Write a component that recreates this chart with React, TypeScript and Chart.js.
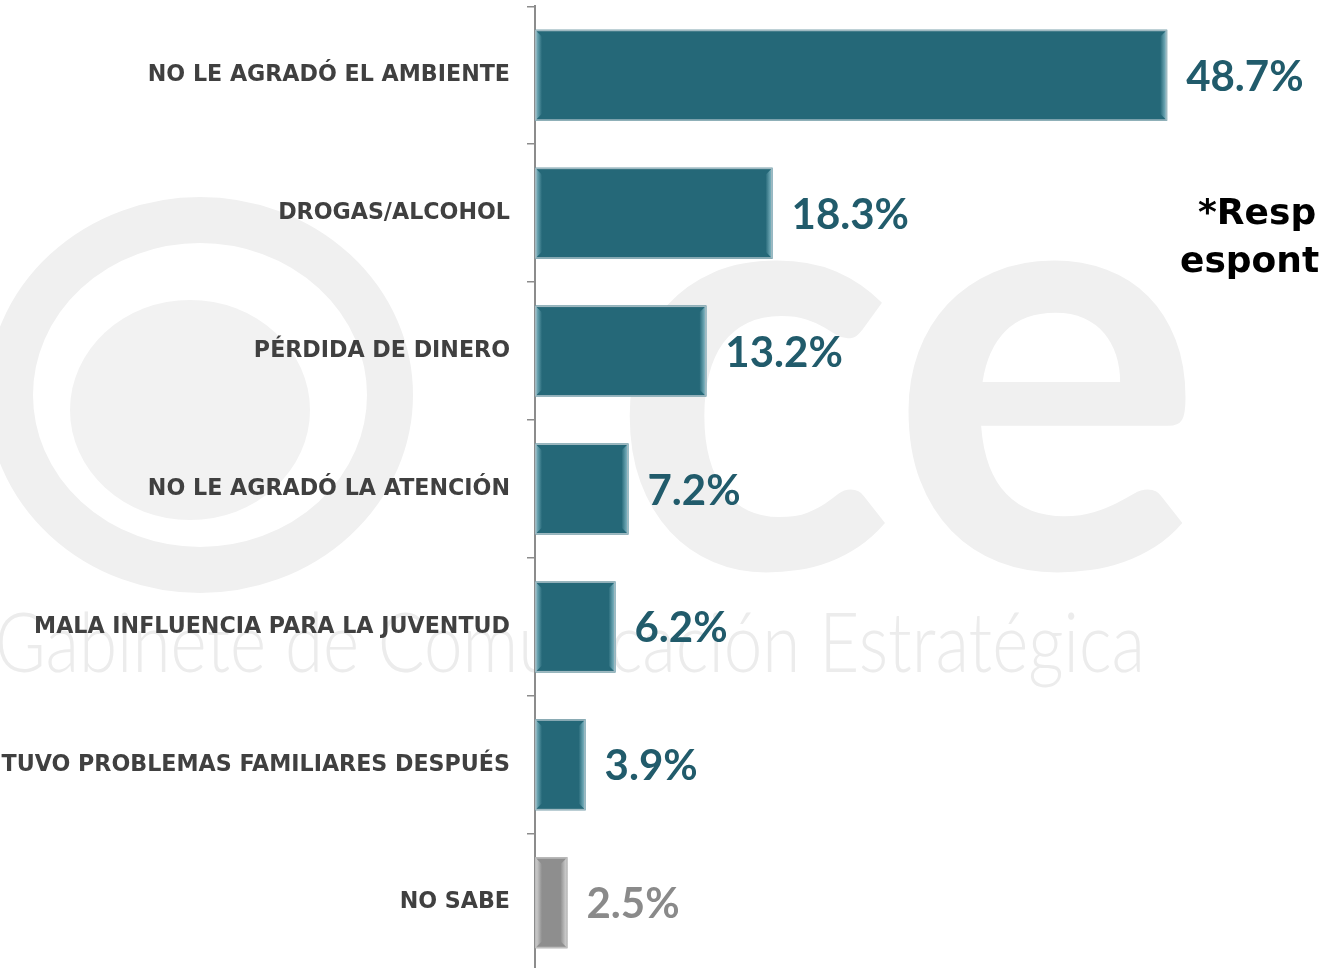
import React, { useEffect, useRef } from "react";
import { Chart, registerables } from "chart.js";

Chart.register(...registerables);

const categories = [
  "NO LE AGRADÓ EL AMBIENTE",
  "DROGAS/ALCOHOL",
  "PÉRDIDA DE DINERO",
  "NO LE AGRADÓ LA ATENCIÓN",
  "MALA INFLUENCIA PARA LA JUVENTUD",
  "TUVO PROBLEMAS FAMILIARES DESPUÉS",
  "NO SABE",
];
const values = [48.7, 18.3, 13.2, 7.2, 6.2, 3.9, 2.5];
const valueLabels = ["48.7%", "18.3%", "13.2%", "7.2%", "6.2%", "3.9%", "2.5%"];
const barColors = ["#256878", "#256878", "#256878", "#256878", "#256878", "#256878", "#8e8e8e"];
const highlightColors = ["#8fc3cf", "#8fc3cf", "#8fc3cf", "#8fc3cf", "#8fc3cf", "#8fc3cf", "#dcdcdc"];
const labelColors = ["#215b6b", "#215b6b", "#215b6b", "#215b6b", "#215b6b", "#215b6b", "#8a8a8a"];
const noteLines = ["*Respuesta", "espontánea"];
const watermarkText = "Gabinete de Comunicación Estratégica";
const watermarkLogo = "ce";

// the canvas is shifted up by this many px inside a clipping frame
const SHIFT = 24;

const watermarkPlugin = {
  id: "watermark",
  beforeDraw(chart: any) {
    const ctx = chart.ctx;
    ctx.save();
    ctx.translate(0, SHIFT);
    ctx.strokeStyle = "#f0f0f0";
    ctx.lineWidth = 46;
    ctx.beginPath();
    ctx.ellipse(200, 395, 190, 175, 0, 0, Math.PI * 2);
    ctx.stroke();
    ctx.fillStyle = "#f2f2f2";
    ctx.beginPath();
    ctx.ellipse(190, 410, 120, 110, 0, 0, Math.PI * 2);
    ctx.fill();
    ctx.fillStyle = "#f0f0f0";
    ctx.font = "bold 590px Lato";
    ctx.textBaseline = "alphabetic";
    ctx.textAlign = "left";
    ctx.fillText(watermarkLogo, 610, 568);
    ctx.fillStyle = "#ececec";
    ctx.font = "300 82px Lato";
    const w = ctx.measureText(watermarkText).width;
    ctx.translate(-5, 672);
    ctx.scale(1150 / w, 1);
    ctx.fillText(watermarkText, 0, 0);
    ctx.restore();
  },
};

const bevelPlugin = {
  id: "bevel",
  afterDatasetsDraw(chart: any) {
    const ctx = chart.ctx;
    const meta = chart.getDatasetMeta(0);
    meta.data.forEach((bar: any, i: number) => {
      const { x, y, base, height } = bar.getProps(["x", "y", "base", "height"], true);
      const left = Math.min(x, base);
      const right = Math.max(x, base);
      const top = y - height / 2;
      const bottom = y + height / 2;
      const hl = highlightColors[i];
      const sw = 7;
      ctx.save();
      let g = ctx.createLinearGradient(left, 0, left + sw, 0);
      g.addColorStop(0, hl);
      g.addColorStop(1, barColors[i]);
      ctx.fillStyle = g;
      ctx.beginPath();
      ctx.moveTo(left, top);
      ctx.lineTo(left + sw, top + sw);
      ctx.lineTo(left + sw, bottom - sw);
      ctx.lineTo(left, bottom);
      ctx.closePath();
      ctx.fill();
      g = ctx.createLinearGradient(right - sw, 0, right, 0);
      g.addColorStop(0, barColors[i]);
      g.addColorStop(1, hl);
      ctx.fillStyle = g;
      ctx.beginPath();
      ctx.moveTo(right, top);
      ctx.lineTo(right - sw, top + sw);
      ctx.lineTo(right - sw, bottom - sw);
      ctx.lineTo(right, bottom);
      ctx.closePath();
      ctx.fill();
      ctx.strokeStyle = i === 6 ? "#bdbdbd" : "#9fb9c1";
      ctx.lineWidth = 1.5;
      ctx.strokeRect(left + 0.75, top + 0.75, right - left - 1.5, bottom - top - 1.5);
      ctx.restore();
    });
  },
};

const valueLabelPlugin = {
  id: "valueLabels",
  afterDatasetsDraw(chart: any) {
    const ctx = chart.ctx;
    const meta = chart.getDatasetMeta(0);
    ctx.save();
    ctx.font = "bold 42px Lato";
    ctx.textAlign = "left";
    ctx.textBaseline = "middle";
    meta.data.forEach((bar: any, i: number) => {
      const { x, y } = bar.getProps(["x", "y"], true);
      ctx.fillStyle = labelColors[i];
      ctx.fillText(valueLabels[i], x + 19, y + 2);
    });
    ctx.restore();
  },
};

const notePlugin = {
  id: "note",
  afterDraw(chart: any) {
    const ctx = chart.ctx;
    ctx.save();
    ctx.translate(0, SHIFT);
    ctx.fillStyle = "#000000";
    ctx.font = "bold 36px 'DejaVu Sans'";
    ctx.textAlign = "left";
    ctx.textBaseline = "middle";
    ctx.fillText(noteLines[0], 1198, 215);
    ctx.fillText(noteLines[1], 1180, 263);
    ctx.restore();
  },
};

export default function App() {
  const canvasRef = useRef<HTMLCanvasElement>(null);

  useEffect(() => {
    if (!canvasRef.current) return;
    const chart = new Chart(canvasRef.current, {
      type: "bar",
      data: {
        labels: categories,
        datasets: [
          {
            data: values,
            backgroundColor: barColors,
            borderWidth: 0,
            barPercentage: 0.66,
            categoryPercentage: 1,
          },
        ],
      },
      options: {
        indexAxis: "y",
        animation: false,
        responsive: true,
        maintainAspectRatio: false,
        layout: { padding: { top: 8, right: 0, bottom: 0, left: 0 } },
        plugins: {
          legend: { display: false },
          tooltip: { enabled: false },
        },
        scales: {
          x: {
            display: false,
            min: 0,
            max: 60.4,
          },
          y: {
            grid: {
              display: true,
              drawOnChartArea: false,
              drawTicks: true,
              tickLength: 8,
              color: "#8c8c8c",
              lineWidth: 1.5,
              offset: true,
            },
            border: { display: true, color: "#8c8c8c", width: 2 },
            ticks: {
              color: "#404040",
              font: { family: "DejaVu Sans", weight: "bold", size: 22.2 },
              padding: 17,
              autoSkip: false,
            },
            afterFit: (scale: any) => {
              scale.width = 535;
            },
          },
        },
      },
      plugins: [watermarkPlugin, bevelPlugin, valueLabelPlugin, notePlugin],
    });
    return () => chart.destroy();
  }, []);

  return (
    <div style={{ position: "absolute", left: 0, top: 0, width: 1319, height: 968, overflow: "hidden", background: "#ffffff" }}>
      <div style={{ position: "absolute", left: 0, top: -SHIFT, width: 1319, height: 1026 }}>
        <canvas ref={canvasRef} />
      </div>
    </div>
  );
}
